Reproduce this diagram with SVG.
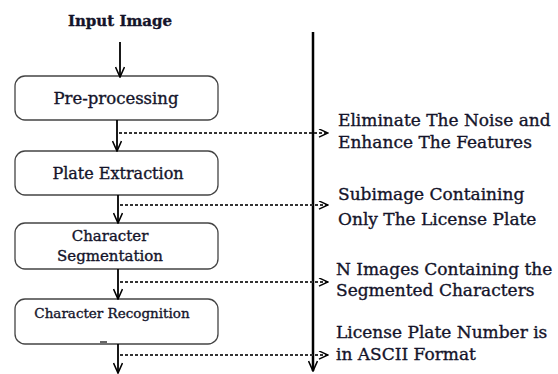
<svg xmlns="http://www.w3.org/2000/svg" width="558" height="374" viewBox="0 0 558 374">
<defs>
<style>
.box{fill:#fff;stroke:#444;stroke-width:1.3}
.t{font-family:"DejaVu Serif","Liberation Serif",serif;fill:#14142a;stroke:#14142a;stroke-width:0.35}
.c{text-anchor:middle}
.flow{stroke:#000;stroke-width:1.8;fill:none}
.dot{stroke:#333;stroke-width:2;stroke-dasharray:3 2;fill:none}
.head{stroke:#000;stroke-width:1.6;fill:none}
</style>
<marker id="v" viewBox="0 0 12 10" refX="11" refY="5" markerWidth="12" markerHeight="10" markerUnits="userSpaceOnUse" orient="auto">
<path d="M1,0.5 L11,5 L1,9.5" class="head"/>
</marker>
<marker id="r" viewBox="0 0 12 10" refX="11" refY="5" markerWidth="11" markerHeight="9" markerUnits="userSpaceOnUse" orient="auto">
<path d="M1,0.5 L11,5 L1,9.5" class="head"/>
</marker>
</defs>
<rect width="558" height="374" fill="#fff"/>
<g id="input">
<text class="t c" x="120" y="26" font-size="15" font-weight="bold">Input Image</text>
</g>
<g id="preprocessing">
<rect class="box" x="15" y="76" width="203" height="44" rx="10"/>
<text class="t c" x="116" y="104" font-size="16.5">Pre-processing</text>
</g>
<g id="plate-extraction">
<rect class="box" x="15" y="151" width="203" height="44" rx="10"/>
<text class="t c" x="118" y="179" font-size="16">Plate Extraction</text>
</g>
<g id="segmentation">
<rect class="box" x="15" y="223" width="203" height="46" rx="10"/>
<text class="t c" x="110" y="241" font-size="15">Character</text>
<text class="t c" x="110" y="261" font-size="15">Segmentation</text>
</g>
<g id="recognition">
<rect class="box" x="15" y="299" width="203" height="45" rx="10"/>
<text class="t c" x="112" y="318" font-size="13.5">Character Recognition</text>
<line x1="100" y1="342" x2="107" y2="342" stroke="#333" stroke-width="1.5"/>
</g>
<g id="outputs">
<text class="t" x="338" y="126" font-size="17">Eliminate The Noise and</text>
<text class="t" x="338" y="148" font-size="17">Enhance The Features</text>
<text class="t" x="338" y="200" font-size="17">Subimage Containing</text>
<text class="t" x="338" y="225" font-size="17">Only The License Plate</text>
<text class="t" x="336" y="275" font-size="17">N Images Containing the</text>
<text class="t" x="336" y="296" font-size="17">Segmented Characters</text>
<text class="t" x="336" y="338" font-size="17">License Plate Number is</text>
<text class="t" x="336" y="360" font-size="17">in ASCII Format</text>
</g>
<g id="connectors">
<line class="flow" x1="120" y1="42" x2="120" y2="77" marker-end="url(#v)"/>
<line class="flow" x1="117" y1="120" x2="117" y2="151" marker-end="url(#v)"/>
<line class="flow" x1="118" y1="195" x2="118" y2="223" marker-end="url(#v)"/>
<line class="flow" x1="118" y1="269" x2="118" y2="299" marker-end="url(#v)"/>
<line class="flow" x1="118" y1="344" x2="118" y2="373" marker-end="url(#v)"/>
<line x1="313" y1="32" x2="313" y2="371" stroke="#000" stroke-width="2.5" marker-end="url(#v)"/>
<line class="dot" x1="119" y1="133" x2="328" y2="133" marker-end="url(#r)"/>
<line class="dot" x1="120" y1="205" x2="328" y2="205" marker-end="url(#r)"/>
<line class="dot" x1="120" y1="282" x2="328" y2="282" marker-end="url(#r)"/>
<line class="dot" x1="120" y1="355" x2="328" y2="355" marker-end="url(#r)"/>
</g>
</svg>
